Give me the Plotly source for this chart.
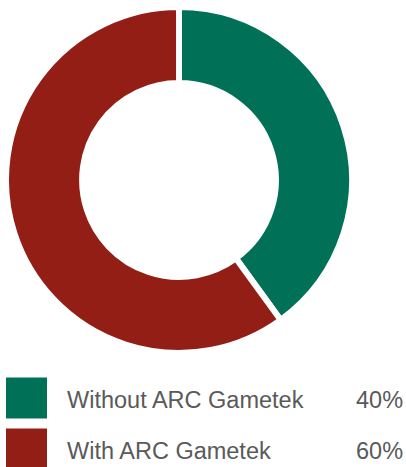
import plotly.graph_objects as go

labels = ["Without ARC Gametek", "With ARC Gametek"]
values = [40, 60]
colors = ["#007157", "#931E16"]
pct_text = ["40%", "60%"]

W, H = 406, 467
fig = go.Figure()
fig.add_trace(go.Pie(
    labels=labels, values=values, hole=0.56, sort=False,
    direction="clockwise", rotation=0,
    marker=dict(colors=colors, line=dict(color="white", width=6)),
    textinfo="none", hoverinfo="label+percent", showlegend=False,
    domain=dict(x=[6 / W, 352 / W], y=[1 - 353 / H, 1 - 7 / H]),
))

row_y = [398, 449]
for i, lab in enumerate(labels):
    yc = row_y[i]
    fig.add_shape(type="rect", xref="paper", yref="paper",
                  x0=6 / W, x1=47 / W, y0=1 - (yc + 20.5) / H, y1=1 - (yc - 20.5) / H,
                  fillcolor=colors[i], line=dict(width=0))
    fig.add_annotation(x=65 / W, y=1 - (yc + 2) / H, xref="paper", yref="paper",
                       text=lab, showarrow=False, xanchor="left", yanchor="middle",
                       font=dict(family="Liberation Sans, Arial", size=23.5, color="#5a5a5a"))
    fig.add_annotation(x=405 / W, y=1 - (yc + 2) / H, xref="paper", yref="paper",
                       text=pct_text[i], showarrow=False, xanchor="right", yanchor="middle",
                       font=dict(family="Liberation Sans, Arial", size=23.5, color="#5a5a5a"))

fig.update_layout(width=W, height=H, margin=dict(l=0, r=0, t=0, b=0),
                  paper_bgcolor="white", plot_bgcolor="white")
fig.write_html("out.html")
